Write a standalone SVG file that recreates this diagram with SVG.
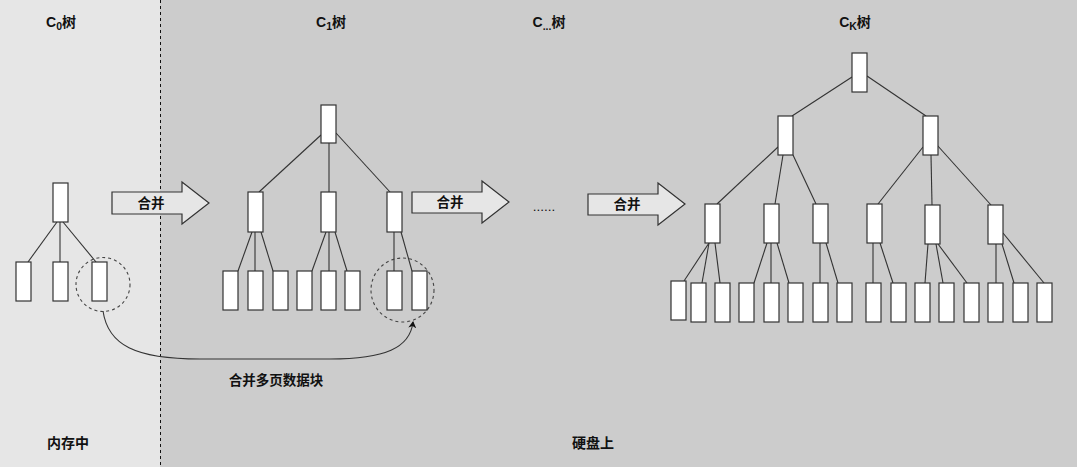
<svg xmlns="http://www.w3.org/2000/svg" width="1077" height="467" viewBox="0 0 1077 467">
<style>
.nd{fill:#ffffff;stroke:#333333;stroke-width:1.2}
.ln{stroke:#333333;stroke-width:1.1;fill:none}
.ar{fill:#e6e6e6;stroke:#333333;stroke-width:1.2}
.t{font-family:"Liberation Sans","Noto Sans CJK SC",sans-serif;font-size:13.5px;fill:#111111;text-anchor:middle}
.m{font-weight:600}
.b{font-weight:bold;font-size:14px}
.dc{fill:none;stroke:#444444;stroke-width:1.1;stroke-dasharray:3,3}
</style>
<defs>
<marker id="ah" markerWidth="8" markerHeight="8" refX="6" refY="4" orient="auto" markerUnits="userSpaceOnUse">
<path d="M0,0 L7,4 L0,8 L2,4 Z" fill="#111111"/>
</marker>
</defs>
<g id="background">
<rect x="0" y="0" width="160" height="467" fill="#e6e6e6"/>
<rect x="160" y="0" width="917" height="467" fill="#cccccc"/>
<line x1="160.5" y1="0" x2="160.5" y2="467" stroke="#111111" stroke-width="1" stroke-dasharray="3,3"/>
</g>
<g id="titles">
<text class="t b" x="61" y="27">C<tspan font-size="10.5" dy="3">0</tspan><tspan dy="-3">树</tspan></text>
<text class="t b" x="331" y="27">C<tspan font-size="10.5" dy="3">1</tspan><tspan dy="-3">树</tspan></text>
<text class="t b" x="549" y="27">C<tspan font-size="10.5" dy="3">...</tspan><tspan dy="-3">树</tspan></text>
<text class="t b" x="855" y="27">C<tspan font-size="10.5" dy="3">K</tspan><tspan dy="-3">树</tspan></text>
<text class="t b" x="68" y="448">内存中</text>
<text class="t b" x="593" y="448">硬盘上</text>
</g>
<g id="connectors">
<line class="ln" x1="57" y1="222" x2="28" y2="262"/>
<line class="ln" x1="60" y1="222" x2="60" y2="262"/>
<line class="ln" x1="63" y1="222" x2="96" y2="262"/>
<line class="ln" x1="321" y1="135" x2="259" y2="192"/>
<line class="ln" x1="329" y1="143" x2="329" y2="192"/>
<line class="ln" x1="336" y1="133" x2="390" y2="192"/>
<line class="ln" x1="252" y1="232" x2="238" y2="271"/>
<line class="ln" x1="255" y1="232" x2="255" y2="271"/>
<line class="ln" x1="261" y1="232" x2="273" y2="271"/>
<line class="ln" x1="326" y1="232" x2="312" y2="271"/>
<line class="ln" x1="329" y1="232" x2="329" y2="271"/>
<line class="ln" x1="335" y1="232" x2="347" y2="271"/>
<line class="ln" x1="394" y1="232" x2="394" y2="271"/>
<line class="ln" x1="401" y1="232" x2="412" y2="271"/>
<line class="ln" x1="852" y1="77" x2="792" y2="116"/>
<line class="ln" x1="867" y1="76" x2="926" y2="116"/>
<line class="ln" x1="778" y1="147" x2="717" y2="204"/>
<line class="ln" x1="783" y1="155" x2="775" y2="204"/>
<line class="ln" x1="793" y1="155" x2="816" y2="204"/>
<line class="ln" x1="923" y1="147" x2="878" y2="204"/>
<line class="ln" x1="931" y1="155" x2="932" y2="205"/>
<line class="ln" x1="937" y1="145" x2="991" y2="205"/>
<line class="ln" x1="709" y1="243" x2="684" y2="281"/>
<line class="ln" x1="709" y1="243" x2="702" y2="283"/>
<line class="ln" x1="715" y1="243" x2="720" y2="283"/>
<line class="ln" x1="767" y1="243" x2="754" y2="283"/>
<line class="ln" x1="771" y1="243" x2="771" y2="283"/>
<line class="ln" x1="777" y1="243" x2="789" y2="283"/>
<line class="ln" x1="820" y1="243" x2="820" y2="283"/>
<line class="ln" x1="826" y1="243" x2="838" y2="283"/>
<line class="ln" x1="873" y1="243" x2="873" y2="283"/>
<line class="ln" x1="880" y1="243" x2="893" y2="283"/>
<line class="ln" x1="928" y1="244" x2="925" y2="283"/>
<line class="ln" x1="936" y1="244" x2="943" y2="283"/>
<line class="ln" x1="938" y1="244" x2="967" y2="283"/>
<line class="ln" x1="996" y1="244" x2="996" y2="283"/>
<line class="ln" x1="1002" y1="244" x2="1014" y2="283"/>
<line class="ln" x1="1003" y1="233" x2="1044" y2="283"/>
<path class="ln" d="M103,311 C108,345 135,359 200,359 L330,359 C385,359 410,348 413,322" marker-end="url(#ah)"/>
</g>
<g id="circles">
<circle class="dc" cx="103" cy="284.5" r="27"/>
<ellipse class="dc" cx="402.5" cy="290" rx="31.5" ry="32"/>
</g>
<g id="c0-tree">
<rect class="nd" x="53" y="183" width="15" height="39"/>
<rect class="nd" x="16" y="262" width="15" height="39"/>
<rect class="nd" x="53" y="262" width="15" height="39"/>
<rect class="nd" x="92" y="262" width="15" height="39"/>
</g>
<g id="c1-tree">
<rect class="nd" x="321" y="105" width="15" height="38"/>
<rect class="nd" x="248" y="192" width="15" height="40"/>
<rect class="nd" x="321" y="192" width="15" height="40"/>
<rect class="nd" x="387" y="192" width="15" height="40"/>
<rect class="nd" x="223" y="271" width="15" height="39"/>
<rect class="nd" x="248" y="271" width="15" height="39"/>
<rect class="nd" x="273" y="271" width="15" height="39"/>
<rect class="nd" x="297" y="271" width="15" height="39"/>
<rect class="nd" x="321" y="271" width="15" height="39"/>
<rect class="nd" x="345" y="271" width="15" height="39"/>
<rect class="nd" x="387" y="271" width="15" height="39"/>
<rect class="nd" x="412" y="271" width="15" height="39"/>
</g>
<g id="ck-tree">
<rect class="nd" x="852" y="53" width="15" height="39"/>
<rect class="nd" x="778" y="116" width="15" height="39"/>
<rect class="nd" x="923" y="116" width="15" height="39"/>
<rect class="nd" x="705" y="204" width="15" height="39"/>
<rect class="nd" x="764" y="204" width="15" height="39"/>
<rect class="nd" x="813" y="204" width="15" height="39"/>
<rect class="nd" x="867" y="204" width="15" height="39"/>
<rect class="nd" x="925" y="205" width="15" height="39"/>
<rect class="nd" x="988" y="205" width="15" height="39"/>
<rect class="nd" x="671" y="281" width="15" height="39"/>
<rect class="nd" x="691" y="283" width="15" height="39"/>
<rect class="nd" x="715" y="283" width="15" height="39"/>
<rect class="nd" x="739" y="283" width="15" height="39"/>
<rect class="nd" x="764" y="283" width="15" height="39"/>
<rect class="nd" x="788" y="283" width="15" height="39"/>
<rect class="nd" x="813" y="283" width="15" height="39"/>
<rect class="nd" x="837" y="283" width="15" height="39"/>
<rect class="nd" x="866" y="283" width="15" height="39"/>
<rect class="nd" x="891" y="283" width="15" height="39"/>
<rect class="nd" x="915" y="283" width="15" height="39"/>
<rect class="nd" x="939" y="283" width="15" height="39"/>
<rect class="nd" x="964" y="283" width="15" height="39"/>
<rect class="nd" x="988" y="283" width="15" height="39"/>
<rect class="nd" x="1013" y="283" width="15" height="39"/>
<rect class="nd" x="1037" y="283" width="15" height="39"/>
</g>
<g id="merge-arrow-1">
<polygon class="ar" points="112,192 182,192 182,182 209,203 182,224 182,214 112,214"/>
<text class="t m" x="151" y="208">合并</text>
</g>
<g id="merge-arrow-2">
<polygon class="ar" points="412,192 482,192 482,181 509,202 482,223 482,213 412,213"/>
<text class="t m" x="450" y="207">合并</text>
</g>
<g id="ellipsis">
<text class="t" x="544" y="211">......</text>
</g>
<g id="merge-arrow-3">
<polygon class="ar" points="588,194 658,194 658,183 685,204 658,225 658,215 588,215"/>
<text class="t m" x="627" y="209">合并</text>
</g>
<g id="merge-label">
<text class="t m" x="276" y="385">合并多页数据块</text>
</g>
</svg>
